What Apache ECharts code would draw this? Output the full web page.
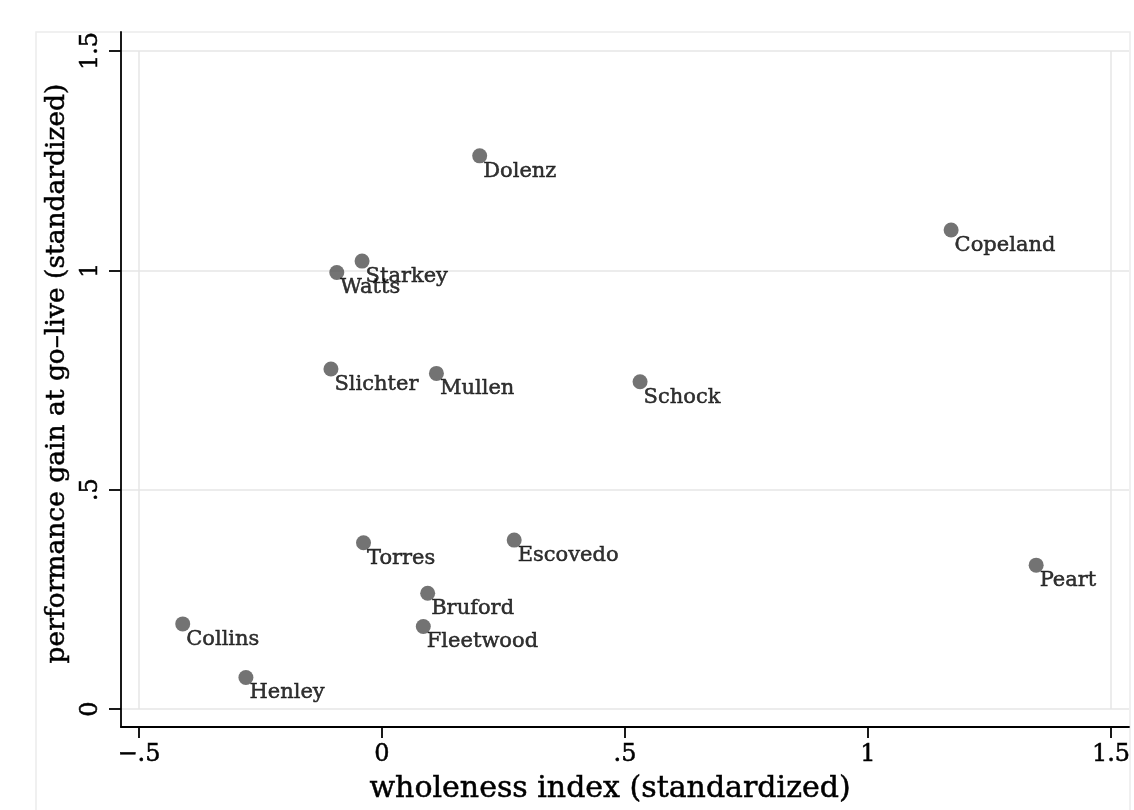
<!DOCTYPE html>
<html>
<head>
<meta charset="utf-8">
<style>
  html, body { margin: 0; padding: 0; background: #ffffff; }
  #chart { width: 1134px; height: 810px; }
</style>
<script src="https://cdn.jsdelivr.net/npm/echarts@6/dist/echarts.min.js"></script>
</head>
<body>
<div id="chart"></div>
<script>
// Drummers: wholeness index vs. performance gain (both standardized)
const names = ['Dolenz', 'Copeland', 'Starkey', 'Watts', 'Slichter', 'Mullen', 'Schock',
               'Torres', 'Escovedo', 'Peart', 'Bruford', 'Fleetwood', 'Collins', 'Henley'];
const wholeness = [0.201, 1.171, -0.041, -0.093, -0.105, 0.112, 0.531,
                   -0.038, 0.272, 1.346, 0.094, 0.085, -0.410, -0.280];
const perfGain = [1.261, 1.092, 1.021, 0.995, 0.775, 0.765, 0.746,
                  0.379, 0.385, 0.328, 0.264, 0.188, 0.194, 0.072];
const xTicks = [-0.5, 0, 0.5, 1, 1.5];
const yTicks = [0, 0.5, 1, 1.5];

const FONT = '"DejaVu Serif", "Liberation Serif", serif';
// thin outline in the text colour gives the glyphs a heavier, print-like weight
const INK = { color: '#000', textBorderColor: '#000', textBorderWidth: 0.5 };

// Stata-style numbers: drop the leading zero, use a true minus sign
function tickText(v) {
  let s = String(v);
  s = s.replace(/^(-?)0\./, '$1.');
  return s.replace('-', '\u2212');
}

const points = names.map((n, i) => ({ name: n, value: [wholeness[i], perfGain[i]] }));

const gridLines = [];
yTicks.forEach(v => gridLines.push({ yAxis: v }));
[xTicks[0], xTicks[xTicks.length - 1]].forEach(v => gridLines.push([
  { coord: [v, yTicks[0]] },
  { coord: [v, yTicks[yTicks.length - 1]] }
]));

const chart = echarts.init(document.getElementById('chart'), null, { renderer: 'canvas' });

chart.setOption({
  animation: false,
  backgroundColor: '#ffffff',
  graphic: [{
    type: 'rect',
    silent: true,
    z: -10,
    shape: { x: 36, y: 32, width: 1094, height: 820 },
    style: { fill: '#ffffff', stroke: '#ececec', lineWidth: 1.5 }
  }],
  grid: { left: 121, right: 5, top: 32, bottom: 83, containLabel: false },
  xAxis: {
    type: 'value',
    min: -0.537,
    max: 1.537,
    name: 'wholeness index (standardized)',
    nameLocation: 'middle',
    nameGap: 47,
    nameTextStyle: Object.assign({ fontFamily: FONT, fontSize: 30, padding: [0, 30, 0, 0] }, INK),
    axisLine: { show: true, onZero: false, lineStyle: { color: '#000', width: 1.8 } },
    axisTick: { show: true, length: 11, customValues: xTicks, lineStyle: { color: '#000', width: 1.8 } },
    axisLabel: Object.assign({
      show: true, customValues: xTicks, margin: 16,
      fontFamily: FONT, fontSize: 24,
      formatter: tickText
    }, INK),
    splitLine: { show: false }
  },
  yAxis: {
    type: 'value',
    min: -0.041,
    max: 1.5433,
    name: 'performance gain at go\u2013live (standardized)',
    nameLocation: 'middle',
    nameGap: 50,
    nameTextStyle: Object.assign({ fontFamily: FONT, fontSize: 26.5, padding: [0, 0, 0, 12] }, INK),
    axisLine: { show: true, onZero: false, lineStyle: { color: '#000', width: 1.8 } },
    axisTick: { show: true, length: 12, customValues: yTicks, lineStyle: { color: '#000', width: 1.8 } },
    axisLabel: Object.assign({
      show: true, customValues: yTicks, margin: 18, rotate: 90,
      fontFamily: FONT, fontSize: 24,
      formatter: tickText
    }, INK),
    splitLine: { show: false }
  },
  series: [{
    type: 'scatter',
    data: points,
    symbol: 'circle',
    symbolSize: 15,
    itemStyle: { color: '#505050' },
    label: Object.assign({
      show: true,
      position: 'inside',
      align: 'left',
      verticalAlign: 'middle',
      offset: [3.5, 15.5],
      formatter: p => p.name,
      fontFamily: FONT,
      fontSize: 21
    }, INK),
    markLine: {
      silent: true,
      symbol: 'none',
      label: { show: false },
      lineStyle: { color: '#e6e6e6', width: 1.5, type: 'solid' },
      emphasis: { disabled: true },
      z: 0,
      data: gridLines
    },
    z: 3
  }]
});
</script>
</body>
</html>
